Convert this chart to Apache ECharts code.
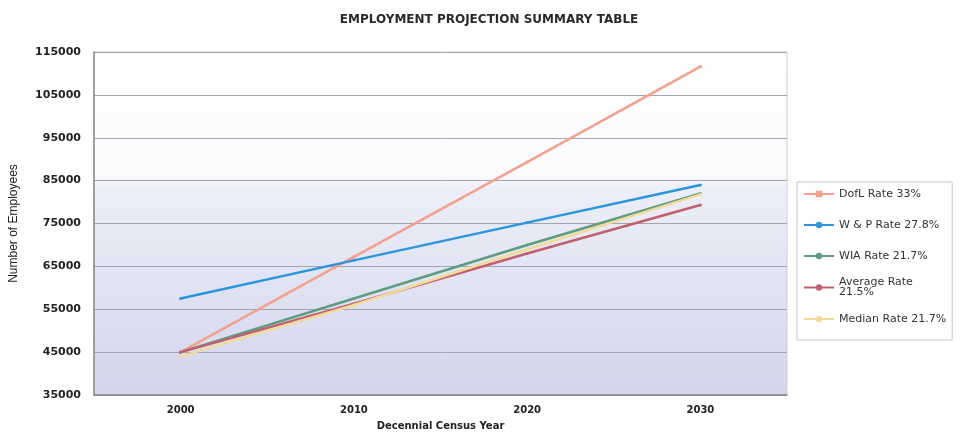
<!DOCTYPE html>
<html>
<head>
<meta charset="utf-8">
<script src="https://cdn.jsdelivr.net/npm/echarts@6/dist/echarts.min.js"></script>
<style>html,body{margin:0;padding:0;background:#fff;}#c{width:965px;height:436px;}</style>
</head>
<body>
<div id="c"></div>
<script>
var years = ['2000', '2010', '2020', '2030'];
var dolRate = [45000, 67200, 89300, 111600];
var wpRate = [57500, 66400, 75200, 84000];
var wiaRate = [45000, 57500, 70000, 82000];
var averageRate = [45000, 56300, 68000, 79300];
var medianRate = [44000, 56000, 69000, 81800];
var seriesNames = ['DofL Rate 33%', 'W & P Rate 27.8%', 'WIA Rate 21.7%', 'Average Rate 21.5%', 'Median Rate 21.7%'];
var seriesColors = ['#f4a08c', '#2b95dd', '#5e9c80', '#c0606e', '#f3da9c'];
var seriesData = [dolRate, wpRate, wiaRate, averageRate, medianRate];
var seriesSymbols = ['rect', 'circle', 'circle', 'circle', 'circle'];

var chart = echarts.init(document.getElementById('c'));
var font = 'DejaVu Sans';
var series = seriesData.map(function (d, i) {
  return {
    name: seriesNames[i],
    type: 'line',
    data: d,
    symbol: seriesSymbols[i],
    symbolSize: 3,
    showSymbol: true,
    lineStyle: { width: 2.5, color: seriesColors[i] },
    itemStyle: { color: seriesColors[i] },
    z: i === 4 ? 3 : 2
  };
});
chart.setOption({
  animation: false,
  backgroundColor: '#ffffff',
  title: {
    text: 'EMPLOYMENT PROJECTION SUMMARY TABLE',
    left: 484, top: 9, textAlign: 'center',
    textStyle: { fontFamily: font, fontSize: 12, fontWeight: 'bold', color: '#2a2a2a' }
  },
  grid: {
    left: 94, right: 178, top: 52, bottom: 37,
    show: true, borderColor: '#cfcfd6', borderWidth: 1,
    backgroundColor: {
      type: 'linear', x: 0, y: 0, x2: 0, y2: 1,
      colorStops: [
        { offset: 0, color: '#ffffff' },
        { offset: 0.36, color: '#fbfbfe' },
        { offset: 0.40, color: '#eceef8' },
        { offset: 1, color: '#d3d6ed' }
      ]
    }
  },
  legend: {
    orient: 'vertical', left: 797, top: 182,
    padding: [2, 6, 11, 6],
    itemWidth: 30, itemHeight: 8, itemGap: 11,
    borderColor: '#c8c8c8', borderWidth: 1, backgroundColor: '#fff',
    textStyle: { fontFamily: font, fontSize: 11, color: '#333', lineHeight: 20 },
    formatter: function (n) {
      return n === 'Average Rate 21.5%' ? 'Average Rate\n21.5%' : n;
    },
    data: seriesNames.map(function (n) {
      return n === 'Average Rate 21.5%' ? { name: n, textStyle: { lineHeight: 10 } } : { name: n };
    })
  },
  xAxis: {
    type: 'category', data: years, boundaryGap: true,
    name: 'Decennial Census Year', nameLocation: 'middle', nameGap: 26,
    nameTextStyle: { fontFamily: font, fontSize: 10, fontWeight: 'bold', color: '#222' },
    axisLine: { lineStyle: { color: '#888', width: 1.5 } },
    axisTick: { show: false },
    axisLabel: { fontFamily: font, fontSize: 10, fontWeight: 'bold', color: '#222', margin: 10 },
    splitLine: { show: false }
  },
  yAxis: {
    type: 'value', min: 35000, max: 115000, interval: 5000,
    name: 'Number of Employees', nameLocation: 'middle', nameGap: 74, nameRotate: 90,
    nameTextStyle: { fontFamily: 'Liberation Sans Narrow, Liberation Sans', fontSize: 12, color: '#222' },
    axisLine: { show: true, lineStyle: { color: '#888', width: 1.5 } },
    axisTick: { show: false },
    axisLabel: {
      fontFamily: font, fontSize: 11, fontWeight: 'bold', color: '#222', margin: 13,
      formatter: function (v) { return ((v - 35000) % 10000 === 0) ? String(v) : ''; }
    },
    splitLine: { show: true, lineStyle: { color: ['#a4a4ae', 'rgba(0,0,0,0)'], width: 1 } }
  },
  series: series
});
</script>
</body>
</html>
